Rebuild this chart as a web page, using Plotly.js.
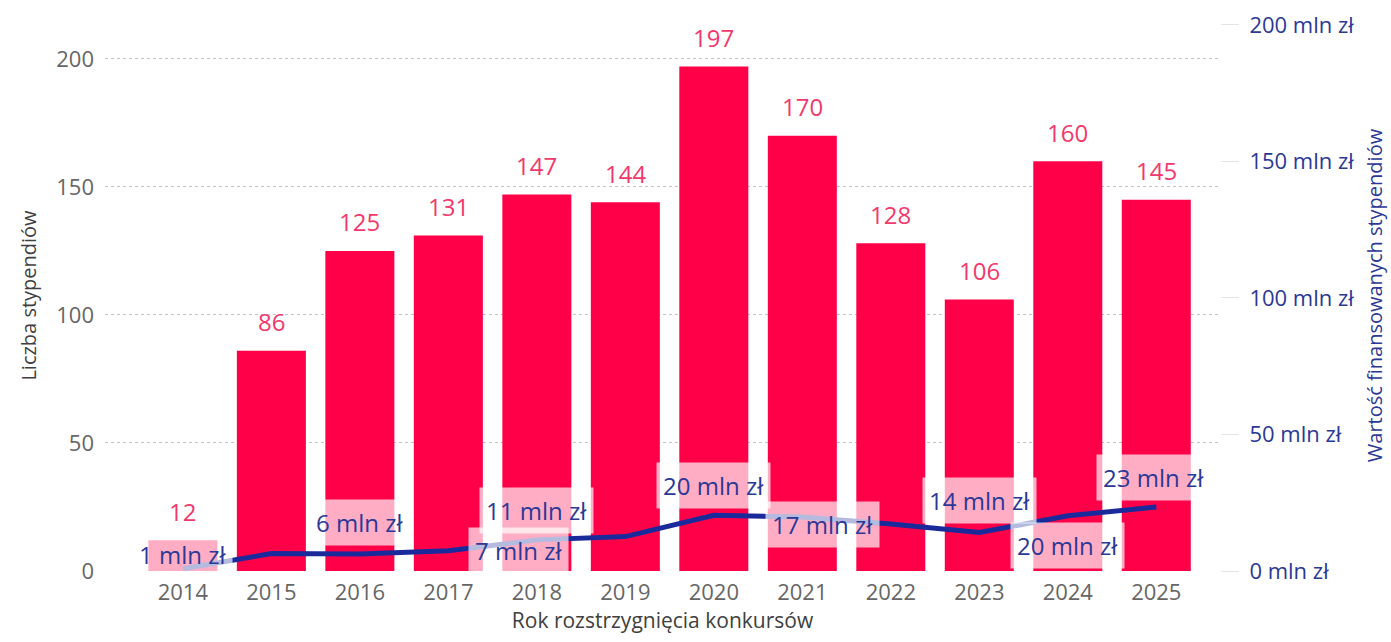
<!DOCTYPE html>
<html>
<head>
<meta charset="utf-8">
<script src="https://cdn.plot.ly/plotly-3.0.1.min.js"></script>
<style>
  html, body { margin: 0; padding: 0; background: #ffffff; }
  #chart { width: 1391px; height: 642px; }
</style>
</head>
<body>
<div id="chart"></div>
<script>
// ---- data ----
const years = ["2014","2015","2016","2017","2018","2019","2020","2021","2022","2023","2024","2025"];
const scholarshipCount = [12, 86, 125, 131, 147, 144, 197, 170, 128, 106, 160, 145];
const fundingMln = [0.8, 6.4, 6.2, 7.4, 11.4, 12.6, 20.4, 19.8, 17.2, 14.1, 20.2, 23.4];
const labeledYears = ["2014","2016","2017","2018","2020","2022","2023","2024","2025"];
const leftTicks = [0, 50, 100, 150, 200];
const rightTicks = [0, 50, 100, 150, 200];

// ---- label placement (style only) ----
const labelOffsets = {
  "2014": [0, 14], "2016": [0, 32], "2017": [70, 0], "2018": [0, 29],
  "2020": [0, 30], "2022": [-68, 0], "2023": [0, 32], "2024": [0, -30], "2025": [-3, 30]
};

const FONT = "Open Sans, Noto Sans, sans-serif";
const barColor = "#FF0048";
const barLabelColor = "#F2386C";
const lineColor = "#1B2A9B";
const blueText = "#2B3896";

const barTrace = {
  type: "bar",
  x: years,
  y: scholarshipCount,
  marker: { color: barColor },
  width: 0.78,
  hoverinfo: "x+y",
  yaxis: "y"
};

const lineTrace = {
  type: "scatter",
  mode: "lines",
  x: years,
  y: fundingMln,
  yaxis: "y2",
  line: { color: lineColor, width: 5 },
  hoverinfo: "x+y"
};

const annotations = [];
years.forEach((yr, i) => {
  annotations.push({
    x: i, y: scholarshipCount[i], xref: "x", yref: "y",
    text: String(scholarshipCount[i]),
    showarrow: false, yanchor: "middle", yshift: 29,
    font: { family: FONT, size: 24, color: barLabelColor }
  });
});
years.forEach((yr, i) => {
  if (!labeledYears.includes(yr)) return;
  const off = labelOffsets[yr] || [0, 0];
  annotations.push({
    x: i, y: fundingMln[i], xref: "x", yref: "y2",
    text: Math.round(fundingMln[i]) + " mln zł",
    showarrow: false, xshift: off[0], yshift: off[1],
    bgcolor: "rgba(255,255,255,0.68)", borderpad: 6,
    font: { family: FONT, size: 24, color: blueText }
  });
});

const layout = {
  width: 1391, height: 642,
  margin: { l: 105, r: 171, t: 20, b: 71 },
  paper_bgcolor: "#ffffff",
  plot_bgcolor: "#ffffff",
  showlegend: false,
  font: { family: FONT },
  xaxis: {
    type: "category",
    range: [-0.88, 11.72],
    showgrid: false, zeroline: false, showline: false, ticks: "",
    tickfont: { family: FONT, size: 22, color: "#666666" },
    ticklabelstandoff: 6,
    title: { text: "Rok rozstrzygnięcia konkursów", standoff: 8,
             font: { family: FONT, size: 21, color: "#404040" } }
  },
  yaxis: {
    range: [0, 215.2],
    tickvals: leftTicks,
    showgrid: true, gridcolor: "#c4c4c4", griddash: "dot", gridwidth: 1,
    zeroline: false, showline: false, ticks: "",
    tickfont: { family: FONT, size: 22, color: "#666666" },
    ticklabelstandoff: 10,
    title: { text: "Liczba stypendiów", standoff: 14,
             font: { family: FONT, size: 20, color: "#404040" } }
  },
  yaxis2: {
    overlaying: "y", side: "right",
    range: [0, 201.8],
    tickvals: rightTicks,
    ticktext: rightTicks.map(v => v + " mln zł"),
    showgrid: false, zeroline: false, showline: false,
    ticks: "outside", ticklen: 18, tickcolor: "#e4e4e4", tickwidth: 1,
    tickfont: { family: FONT, size: 22, color: blueText },
    ticklabelstandoff: 6,
    title: { text: "Wartość finansowanych stypendiów", standoff: 14,
             font: { family: FONT, size: 20, color: blueText } }
  },
  annotations: annotations
};

Plotly.newPlot("chart", [barTrace, lineTrace], layout, { displayModeBar: false, staticPlot: true });
</script>
</body>
</html>
